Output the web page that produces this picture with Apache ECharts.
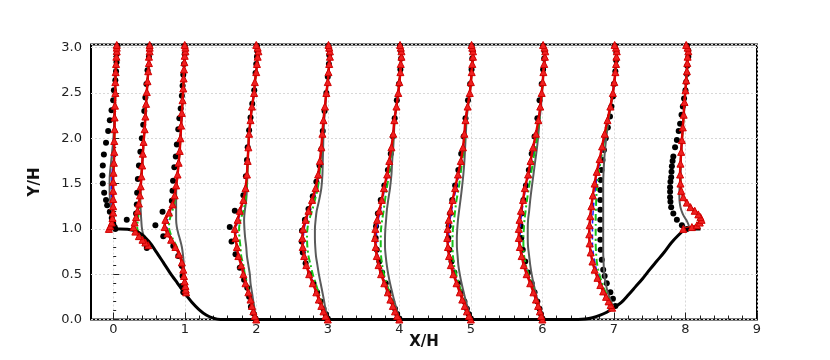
<!DOCTYPE html>
<html>
<head>
<meta charset="utf-8">
<script src="https://cdn.jsdelivr.net/npm/echarts/dist/echarts.min.js"></script>
<style>
  html, body { margin: 0; padding: 0; background: #fff; }
  #chart { width: 830px; height: 360px; }
</style>
</head>
<body>
<div id="chart"></div>
<script>
// hill geometry
const hillX = [0, 0.1, 0.2, 0.3, 0.4, 0.5, 0.6, 0.7, 0.8, 0.9, 1.0, 1.1, 1.2, 1.3, 1.4, 1.5, 1.6,
  6.5, 6.6, 6.7, 6.8, 6.9, 7.0, 7.1, 7.2, 7.3, 7.4, 7.5, 7.6, 7.7, 7.8, 7.9, 7.97, 8.05, 8.21];
const hillY = [1.0, 1.0, 0.995, 0.98, 0.94, 0.86, 0.75, 0.63, 0.51, 0.4, 0.29, 0.19, 0.11, 0.05, 0.015, 0.0, 0.0,
  0.0, 0.005, 0.02, 0.045, 0.08, 0.13, 0.185, 0.27, 0.36, 0.45, 0.55, 0.645, 0.74, 0.845, 0.93, 0.98, 1.0, 1.0];

// x/H = 0
const yS0 = [1.0, 1.03, 1.07, 1.12, 1.18, 1.25, 1.33, 1.42, 1.52, 1.62, 1.73, 1.85, 1.97, 2.1, 2.23, 2.36, 2.5, 2.62, 2.73, 2.82, 2.9, 2.96, 3.0, 3.03];
const red0 = [-0.06, -0.04, -0.02, -0.01, 0.0, 0.0, 0.0, 0.0, 0.0, 0.005, 0.01, 0.015, 0.015, 0.02, 0.02, 0.025, 0.03, 0.03, 0.035, 0.04, 0.045, 0.05, 0.05, 0.05];
const grey0 = [-0.05, -0.03, -0.01, 0.0, -0.01, -0.03, -0.045, -0.05, -0.05, -0.045, -0.03, -0.015, 0.0, 0.01, 0.015, 0.02, 0.025, 0.03, 0.035, 0.04, 0.045, 0.05, 0.05, 0.05];
const green0 = [-0.05, -0.035, -0.015, -0.005, 0.0, -0.005, -0.01, -0.01, -0.01, -0.005, 0.0, 0.01, 0.015, 0.02, 0.02, 0.025, 0.03, 0.03, 0.035, 0.04, 0.045, 0.05, 0.05, 0.05];
const blue0 = [-0.05, -0.035, -0.015, -0.005, -0.005, -0.01, -0.02, -0.025, -0.02, -0.015, -0.005, 0.005, 0.01, 0.02, 0.02, 0.025, 0.03, 0.03, 0.035, 0.04, 0.045, 0.05, 0.05, 0.05];
const dotY0 = [1.0, 1.02, 1.06, 1.12, 1.19, 1.26, 1.32, 1.4, 1.5, 1.59, 1.7, 1.82, 1.95, 2.08, 2.2, 2.31, 2.42, 2.53, 2.64, 2.74, 2.84, 2.93, 3.02];
const dot0 = [0.03, 0.02, 0.0, -0.02, -0.047, -0.084, -0.1, -0.126, -0.145, -0.15, -0.145, -0.13, -0.1, -0.07, -0.047, -0.023, 0.0, 0.01, 0.03, 0.04, 0.047, 0.05, 0.06];

// x/H = 0.5
const yS05 = [0.82, 0.85, 0.88, 0.92, 0.97, 1.02, 1.07, 1.13, 1.2, 1.28, 1.37, 1.47, 1.58, 1.7, 1.83, 1.96, 2.1, 2.24, 2.38, 2.51, 2.63, 2.74, 2.83, 2.9, 2.96, 3.0, 3.03];
const red05 = [-0.01, -0.05, -0.09, -0.14, -0.19, -0.215, -0.2, -0.18, -0.16, -0.14, -0.125, -0.115, -0.105, -0.095, -0.085, -0.075, -0.06, -0.05, -0.04, -0.03, -0.02, -0.01, 0.0, 0.0, 0.01, 0.01, 0.01];
const grey05 = [-0.01, -0.03, -0.05, -0.07, -0.09, -0.1, -0.105, -0.11, -0.115, -0.12, -0.12, -0.115, -0.105, -0.095, -0.085, -0.075, -0.06, -0.05, -0.04, -0.03, -0.02, -0.01, 0.0, 0.0, 0.01, 0.01, 0.01];
const green05 = [-0.01, -0.04, -0.07, -0.11, -0.15, -0.165, -0.16, -0.15, -0.14, -0.13, -0.12, -0.113, -0.105, -0.095, -0.085, -0.075, -0.06, -0.05, -0.04, -0.03, -0.02, -0.01, 0.0, 0.0, 0.01, 0.01, 0.01];
const blue05 = [-0.01, -0.045, -0.08, -0.13, -0.175, -0.2, -0.19, -0.17, -0.155, -0.14, -0.125, -0.115, -0.105, -0.095, -0.085, -0.075, -0.06, -0.05, -0.04, -0.03, -0.02, -0.01, 0.0, 0.0, 0.01, 0.01, 0.01];
const dotY05 = [0.79, 0.84, 0.9, 1.1, 1.17, 1.27, 1.4, 1.55, 1.7, 1.85, 2.0, 2.15, 2.3, 2.45, 2.6, 2.75, 2.9, 3.02];
const dot05 = [-0.03, -0.056, -0.08, -0.31, -0.18, -0.17, -0.165, -0.155, -0.14, -0.12, -0.1, -0.08, -0.065, -0.05, -0.035, -0.02, 0.0, 0.01];

// x/H = 1
const yS1 = [0.3, 0.33, 0.37, 0.42, 0.48, 0.55, 0.63, 0.72, 0.8, 0.88, 0.95, 1.02, 1.1, 1.18, 1.27, 1.37, 1.48, 1.6, 1.73, 1.86, 2.0, 2.14, 2.28, 2.42, 2.55, 2.66, 2.76, 2.84, 2.91, 2.96, 3.0, 3.03];
const red1 = [0.02, 0.015, 0.01, 0.0, -0.01, -0.02, -0.04, -0.08, -0.13, -0.19, -0.24, -0.28, -0.27, -0.22, -0.17, -0.14, -0.12, -0.1, -0.085, -0.07, -0.06, -0.05, -0.04, -0.03, -0.02, -0.015, -0.01, -0.005, 0.0, 0.01, 0.01, 0.0];
const grey1 = [0.02, 0.015, 0.01, 0.0, -0.005, -0.01, -0.015, -0.025, -0.04, -0.065, -0.09, -0.11, -0.12, -0.12, -0.12, -0.12, -0.115, -0.1, -0.085, -0.07, -0.06, -0.05, -0.04, -0.03, -0.02, -0.015, -0.01, -0.005, 0.0, 0.01, 0.01, 0.0];
const green1 = [0.02, 0.015, 0.01, 0.0, -0.01, -0.02, -0.035, -0.07, -0.11, -0.16, -0.2, -0.22, -0.21, -0.18, -0.15, -0.13, -0.115, -0.1, -0.085, -0.07, -0.06, -0.05, -0.04, -0.03, -0.02, -0.015, -0.01, -0.005, 0.0, 0.01, 0.01, 0.0];
const blue1 = [0.02, 0.015, 0.01, 0.0, -0.01, -0.02, -0.04, -0.075, -0.12, -0.175, -0.22, -0.25, -0.24, -0.2, -0.16, -0.135, -0.12, -0.1, -0.085, -0.07, -0.06, -0.05, -0.04, -0.03, -0.02, -0.015, -0.01, -0.005, 0.0, 0.01, 0.01, 0.0];
const dotY1 = [0.3, 0.37, 0.48, 0.59, 0.7, 0.81, 0.92, 1.04, 1.19, 1.31, 1.42, 1.53, 1.68, 1.8, 1.93, 2.1, 2.22, 2.33, 2.47, 2.58, 2.7, 2.82, 2.93, 3.02];
const dot1 = [-0.02, -0.04, -0.03, -0.04, -0.09, -0.16, -0.3, -0.41, -0.31, -0.18, -0.17, -0.163, -0.145, -0.125, -0.11, -0.09, -0.075, -0.056, -0.04, -0.03, -0.02, -0.01, 0.0, 0.0];

// flat-floor stations x/H = 2..6
const yF = [0, 0.04, 0.09, 0.15, 0.22, 0.3, 0.4, 0.5, 0.6, 0.7, 0.8, 0.9, 1.0, 1.1, 1.2, 1.32, 1.45, 1.6, 1.75, 1.9, 2.05, 2.2, 2.35, 2.5, 2.62, 2.73, 2.82, 2.9, 2.96, 3.0, 3.03];
const dotYF = [0.01, 0.06, 0.12, 0.2, 0.3, 0.4, 0.52, 0.64, 0.77, 0.9, 1.03, 1.17, 1.32, 1.48, 1.65, 1.83, 2.02, 2.22, 2.42, 2.6, 2.76, 2.88, 2.96, 3.02];

const red2 = [0.0, -0.02, -0.04, -0.06, -0.08, -0.11, -0.15, -0.18, -0.21, -0.25, -0.27, -0.29, -0.3, -0.26, -0.23, -0.18, -0.15, -0.13, -0.12, -0.11, -0.1, -0.08, -0.06, -0.03, -0.02, 0.0, 0.01, 0.02, 0.03, 0.02, 0.0];
const grey2 = [0.0, -0.01, -0.02, -0.03, -0.045, -0.06, -0.08, -0.09, -0.11, -0.13, -0.14, -0.155, -0.165, -0.17, -0.16, -0.14, -0.13, -0.125, -0.12, -0.11, -0.1, -0.08, -0.06, -0.03, -0.02, 0.0, 0.01, 0.02, 0.03, 0.02, 0.0];
const green2 = [0.0, -0.015, -0.035, -0.05, -0.07, -0.1, -0.13, -0.16, -0.18, -0.21, -0.22, -0.235, -0.24, -0.22, -0.18, -0.15, -0.135, -0.125, -0.12, -0.11, -0.1, -0.08, -0.06, -0.03, -0.02, 0.0, 0.01, 0.02, 0.03, 0.02, 0.0];
const blue2 = [0.0, -0.02, -0.04, -0.06, -0.08, -0.11, -0.145, -0.175, -0.2, -0.24, -0.26, -0.28, -0.285, -0.25, -0.22, -0.175, -0.145, -0.13, -0.12, -0.11, -0.1, -0.08, -0.06, -0.03, -0.02, 0.0, 0.01, 0.02, 0.03, 0.02, 0.0];
const dotY2 = [0.01, 0.07, 0.14, 0.25, 0.35, 0.44, 0.57, 0.72, 0.86, 1.02, 1.2, 1.37, 1.58, 1.76, 1.9, 2.09, 2.23, 2.38, 2.53, 2.72, 2.82, 2.9, 2.96, 3.02];
const dot2 = [-0.01, -0.04, -0.075, -0.1, -0.126, -0.17, -0.23, -0.29, -0.345, -0.37, -0.3, -0.18, -0.145, -0.13, -0.12, -0.1, -0.08, -0.056, -0.028, -0.01, 0.0, 0.01, 0.015, 0.01];

const red3 = [0.0, -0.03, -0.06, -0.09, -0.125, -0.16, -0.21, -0.26, -0.3, -0.33, -0.35, -0.355, -0.345, -0.31, -0.27, -0.22, -0.17, -0.135, -0.11, -0.09, -0.075, -0.06, -0.04, -0.02, 0.0, 0.01, 0.02, 0.03, 0.03, 0.02, 0.01];
const grey3 = [0.0, -0.01, -0.025, -0.04, -0.055, -0.075, -0.1, -0.125, -0.145, -0.165, -0.175, -0.18, -0.18, -0.17, -0.155, -0.12, -0.09, -0.075, -0.07, -0.065, -0.06, -0.05, -0.035, -0.02, 0.0, 0.01, 0.02, 0.03, 0.03, 0.02, 0.01];
const green3 = [0.0, -0.025, -0.05, -0.075, -0.1, -0.13, -0.17, -0.21, -0.24, -0.27, -0.285, -0.29, -0.285, -0.26, -0.22, -0.18, -0.14, -0.115, -0.1, -0.085, -0.075, -0.06, -0.04, -0.02, 0.0, 0.01, 0.02, 0.03, 0.03, 0.02, 0.01];
const blue3 = [0.0, -0.03, -0.055, -0.085, -0.12, -0.155, -0.2, -0.25, -0.29, -0.32, -0.335, -0.34, -0.33, -0.3, -0.26, -0.21, -0.16, -0.13, -0.105, -0.09, -0.075, -0.06, -0.04, -0.02, 0.0, 0.01, 0.02, 0.03, 0.03, 0.02, 0.01];
const dotY3 = [0.01, 0.06, 0.12, 0.2, 0.3, 0.4, 0.5, 0.62, 0.74, 0.86, 0.98, 1.1, 1.22, 1.36, 1.52, 1.7, 1.88, 2.08, 2.3, 2.5, 2.68, 2.82, 2.92, 2.98, 3.02];
const dot3 = [0.0, -0.03, -0.06, -0.1, -0.15, -0.2, -0.25, -0.31, -0.35, -0.365, -0.36, -0.32, -0.27, -0.21, -0.16, -0.115, -0.09, -0.07, -0.045, -0.02, 0.0, 0.015, 0.02, 0.02, 0.01];

const red4 = [0.0, -0.03, -0.06, -0.09, -0.125, -0.16, -0.21, -0.255, -0.29, -0.315, -0.33, -0.34, -0.335, -0.31, -0.28, -0.245, -0.215, -0.17, -0.14, -0.11, -0.085, -0.07, -0.04, -0.015, 0.0, 0.015, 0.02, 0.03, 0.03, 0.02, 0.01];
const grey4 = [0.0, -0.015, -0.03, -0.05, -0.075, -0.1, -0.13, -0.155, -0.175, -0.19, -0.2, -0.2, -0.195, -0.185, -0.175, -0.155, -0.13, -0.11, -0.1, -0.085, -0.075, -0.065, -0.04, -0.015, 0.0, 0.015, 0.02, 0.03, 0.03, 0.02, 0.01];
const green4 = [0.0, -0.025, -0.05, -0.075, -0.105, -0.135, -0.18, -0.215, -0.24, -0.255, -0.26, -0.26, -0.255, -0.24, -0.22, -0.2, -0.175, -0.145, -0.125, -0.1, -0.08, -0.068, -0.04, -0.015, 0.0, 0.015, 0.02, 0.03, 0.03, 0.02, 0.01];
const blue4 = [0.0, -0.03, -0.055, -0.085, -0.12, -0.155, -0.2, -0.245, -0.28, -0.3, -0.315, -0.32, -0.315, -0.295, -0.265, -0.235, -0.205, -0.165, -0.135, -0.105, -0.085, -0.07, -0.04, -0.015, 0.0, 0.015, 0.02, 0.03, 0.03, 0.02, 0.01];
const dot4 = [0.0, -0.03, -0.06, -0.1, -0.15, -0.19, -0.24, -0.28, -0.315, -0.33, -0.325, -0.3, -0.26, -0.21, -0.16, -0.12, -0.09, -0.065, -0.035, -0.005, 0.015, 0.025, 0.025, 0.01];

const red5 = [0.0, -0.025, -0.055, -0.085, -0.12, -0.155, -0.2, -0.245, -0.28, -0.305, -0.32, -0.33, -0.325, -0.31, -0.285, -0.255, -0.22, -0.18, -0.14, -0.11, -0.09, -0.075, -0.045, -0.015, 0.0, 0.012, 0.02, 0.03, 0.03, 0.02, 0.01];
const grey5 = [0.0, -0.015, -0.03, -0.05, -0.075, -0.1, -0.13, -0.155, -0.175, -0.185, -0.195, -0.196, -0.19, -0.18, -0.165, -0.145, -0.125, -0.105, -0.09, -0.08, -0.07, -0.06, -0.04, -0.015, 0.0, 0.012, 0.02, 0.03, 0.03, 0.02, 0.01];
const green5 = [0.0, -0.02, -0.045, -0.075, -0.1, -0.13, -0.17, -0.205, -0.235, -0.25, -0.256, -0.256, -0.25, -0.235, -0.22, -0.2, -0.17, -0.145, -0.12, -0.1, -0.085, -0.072, -0.045, -0.015, 0.0, 0.012, 0.02, 0.03, 0.03, 0.02, 0.01];
const blue5 = [0.0, -0.025, -0.05, -0.08, -0.115, -0.15, -0.19, -0.235, -0.27, -0.29, -0.305, -0.31, -0.305, -0.29, -0.27, -0.24, -0.205, -0.17, -0.135, -0.108, -0.09, -0.075, -0.045, -0.015, 0.0, 0.012, 0.02, 0.03, 0.03, 0.02, 0.01];
const dot5 = [0.0, -0.03, -0.055, -0.09, -0.14, -0.18, -0.23, -0.27, -0.3, -0.315, -0.31, -0.29, -0.26, -0.22, -0.175, -0.135, -0.1, -0.075, -0.04, -0.01, 0.01, 0.02, 0.025, 0.01];

const red6 = [0.0, -0.015, -0.035, -0.06, -0.09, -0.125, -0.17, -0.22, -0.26, -0.29, -0.315, -0.33, -0.33, -0.32, -0.3, -0.27, -0.245, -0.2, -0.165, -0.13, -0.09, -0.056, -0.03, -0.01, 0.005, 0.014, 0.025, 0.035, 0.04, 0.03, 0.01];
const grey6 = [0.0, -0.01, -0.025, -0.045, -0.07, -0.095, -0.125, -0.15, -0.17, -0.185, -0.2, -0.205, -0.205, -0.2, -0.185, -0.17, -0.15, -0.125, -0.1, -0.075, -0.055, -0.04, -0.02, -0.005, 0.005, 0.014, 0.025, 0.035, 0.04, 0.03, 0.01];
const green6 = [0.0, -0.012, -0.03, -0.055, -0.08, -0.11, -0.15, -0.195, -0.23, -0.255, -0.265, -0.266, -0.26, -0.25, -0.235, -0.215, -0.19, -0.16, -0.13, -0.1, -0.07, -0.045, -0.025, -0.008, 0.005, 0.014, 0.025, 0.035, 0.04, 0.03, 0.01];
const blue6 = [0.0, -0.015, -0.033, -0.058, -0.087, -0.12, -0.165, -0.21, -0.25, -0.28, -0.3, -0.31, -0.31, -0.3, -0.285, -0.26, -0.235, -0.19, -0.155, -0.12, -0.085, -0.052, -0.028, -0.01, 0.005, 0.014, 0.025, 0.035, 0.04, 0.03, 0.01];
const dot6 = [0.0, -0.02, -0.04, -0.07, -0.11, -0.15, -0.2, -0.24, -0.275, -0.295, -0.3, -0.29, -0.265, -0.23, -0.19, -0.15, -0.11, -0.07, -0.04, -0.01, 0.01, 0.025, 0.03, 0.01];

// x/H = 7
const yS7 = [0.13, 0.16, 0.2, 0.25, 0.31, 0.38, 0.46, 0.55, 0.64, 0.74, 0.84, 0.94, 1.04, 1.14, 1.25, 1.37, 1.5, 1.63, 1.77, 1.91, 2.05, 2.2, 2.35, 2.5, 2.62, 2.73, 2.82, 2.9, 2.96, 3.0, 3.03];
const red7 = [-0.025, -0.045, -0.075, -0.11, -0.15, -0.19, -0.23, -0.27, -0.3, -0.325, -0.34, -0.345, -0.34, -0.33, -0.315, -0.295, -0.27, -0.24, -0.2, -0.165, -0.13, -0.09, -0.05, -0.015, 0.005, 0.02, 0.03, 0.035, 0.04, 0.03, 0.01];
const grey7 = [0.0, -0.02, -0.04, -0.065, -0.09, -0.11, -0.13, -0.14, -0.145, -0.15, -0.15, -0.15, -0.15, -0.15, -0.15, -0.15, -0.15, -0.145, -0.135, -0.12, -0.1, -0.075, -0.045, -0.015, 0.005, 0.02, 0.03, 0.035, 0.04, 0.03, 0.01];
const green7 = [-0.01, -0.03, -0.055, -0.085, -0.12, -0.155, -0.19, -0.22, -0.24, -0.25, -0.255, -0.255, -0.255, -0.255, -0.25, -0.245, -0.23, -0.21, -0.18, -0.15, -0.12, -0.085, -0.05, -0.015, 0.005, 0.02, 0.03, 0.035, 0.04, 0.03, 0.01];
const blue7 = [-0.02, -0.04, -0.07, -0.1, -0.14, -0.175, -0.21, -0.245, -0.27, -0.29, -0.3, -0.3, -0.3, -0.295, -0.285, -0.27, -0.25, -0.225, -0.19, -0.155, -0.125, -0.088, -0.05, -0.015, 0.005, 0.02, 0.03, 0.035, 0.04, 0.03, 0.01];
const dotY7 = [0.15, 0.23, 0.3, 0.4, 0.48, 0.55, 0.66, 0.77, 0.88, 0.99, 1.1, 1.21, 1.32, 1.43, 1.54, 1.65, 1.76, 1.87, 2.0, 2.12, 2.24, 2.35, 2.46, 2.6, 2.74, 2.86, 2.95, 3.02];
const dot7 = [0.02, -0.014, -0.05, -0.1, -0.13, -0.15, -0.17, -0.185, -0.19, -0.19, -0.19, -0.19, -0.19, -0.19, -0.185, -0.175, -0.16, -0.14, -0.115, -0.085, -0.055, -0.035, -0.014, 0.0, 0.02, 0.03, 0.035, 0.01];

// x/H = 8
const yS8 = [1.0, 1.02, 1.04, 1.07, 1.1, 1.13, 1.16, 1.2, 1.24, 1.29, 1.35, 1.42, 1.5, 1.6, 1.72, 1.85, 1.98, 2.12, 2.26, 2.4, 2.53, 2.64, 2.74, 2.83, 2.9, 2.96, 3.0, 3.03];
const red8 = [-0.03, 0.09, 0.16, 0.2, 0.225, 0.21, 0.18, 0.13, 0.07, 0.02, -0.03, -0.06, -0.07, -0.075, -0.07, -0.06, -0.05, -0.037, -0.025, -0.014, 0.0, 0.01, 0.02, 0.025, 0.03, 0.04, 0.03, 0.01];
const grey8 = [0.04, 0.05, 0.045, 0.03, 0.01, -0.015, -0.035, -0.055, -0.07, -0.08, -0.085, -0.085, -0.08, -0.07, -0.065, -0.06, -0.05, -0.037, -0.025, -0.014, 0.0, 0.01, 0.02, 0.025, 0.03, 0.04, 0.03, 0.01];
const green8 = [-0.02, 0.08, 0.14, 0.18, 0.2, 0.19, 0.165, 0.12, 0.065, 0.02, -0.025, -0.055, -0.065, -0.07, -0.068, -0.06, -0.05, -0.037, -0.025, -0.014, 0.0, 0.01, 0.02, 0.025, 0.03, 0.04, 0.03, 0.01];
const blue8 = [-0.02, 0.085, 0.15, 0.19, 0.21, 0.2, 0.17, 0.125, 0.068, 0.02, -0.028, -0.058, -0.068, -0.072, -0.069, -0.06, -0.05, -0.037, -0.025, -0.014, 0.0, 0.01, 0.02, 0.025, 0.03, 0.04, 0.03, 0.01];
const dotY8 = [1.0, 1.04, 1.1, 1.17, 1.24, 1.3, 1.35, 1.41, 1.46, 1.52, 1.57, 1.63, 1.69, 1.75, 1.8, 1.9, 1.98, 2.08, 2.16, 2.26, 2.35, 2.44, 2.53, 2.62, 2.71, 2.8, 2.9, 2.97, 3.02];
const dot8 = [0.02, -0.05, -0.12, -0.17, -0.2, -0.21, -0.215, -0.215, -0.215, -0.21, -0.2, -0.195, -0.19, -0.18, -0.17, -0.145, -0.12, -0.095, -0.075, -0.055, -0.037, -0.02, 0.0, 0.01, 0.02, 0.025, 0.04, 0.04, 0.02];

const stations = [
  { x: 0, y: yS0, red: red0, grey: grey0, green: green0, blue: blue0, dy: dotY0, dot: dot0 },
  { x: 0.5, y: yS05, red: red05, grey: grey05, green: green05, blue: blue05, dy: dotY05, dot: dot05 },
  { x: 1, y: yS1, red: red1, grey: grey1, green: green1, blue: blue1, dy: dotY1, dot: dot1 },
  { x: 2, y: yF, red: red2, grey: grey2, green: green2, blue: blue2, dy: dotY2, dot: dot2 },
  { x: 3, y: yF, red: red3, grey: grey3, green: green3, blue: blue3, dy: dotY3, dot: dot3 },
  { x: 4, y: yF, red: red4, grey: grey4, green: green4, blue: blue4, dy: dotYF, dot: dot4 },
  { x: 5, y: yF, red: red5, grey: grey5, green: green5, blue: blue5, dy: dotYF, dot: dot5 },
  { x: 6, y: yF, red: red6, grey: grey6, green: green6, blue: blue6, dy: dotYF, dot: dot6 },
  { x: 7, y: yS7, red: red7, grey: grey7, green: green7, blue: blue7, dy: dotY7, dot: dot7 },
  { x: 8, y: yS8, red: red8, grey: grey8, green: green8, blue: blue8, dy: dotY8, dot: dot8 }
];

const Y_MAX = 3.035;
const FONT = 'DejaVu Sans';

function profile(x0, ys, dx) {
  return ys.map((y, i) => [x0 + dx[i], y]);
}

function lineSeries(data, color, width, type) {
  return {
    type: 'line', xAxisIndex: 0, yAxisIndex: 0, data: data,
    showSymbol: false, smooth: 0.3, silent: true,
    lineStyle: { color: color, width: width, type: type }
  };
}

const series = [];
stations.forEach(function (s) {
  series.push(lineSeries(profile(s.x, s.y, s.grey), '#5a5a5a', 2, 'solid'));
});
stations.forEach(function (s) {
  series.push(lineSeries(profile(s.x, s.y, s.green), '#17c117', 2, [7, 3, 2, 3]));
});
stations.forEach(function (s) {
  series.push(lineSeries(profile(s.x, s.y, s.blue), '#1a1aff', 1.5, [5, 3]));
});
stations.forEach(function (s) {
  series.push({
    type: 'line', xAxisIndex: 0, yAxisIndex: 0, data: profile(s.x, s.y, s.red),
    smooth: 0.3, silent: true, symbol: 'triangle', symbolSize: 7, showAllSymbol: true,
    lineStyle: { color: '#e00000', width: 2.5 },
    itemStyle: { color: '#f02020', borderColor: '#d00000', borderWidth: 1 }
  });
});
stations.forEach(function (s) {
  series.push({
    type: 'scatter', xAxisIndex: 0, yAxisIndex: 0, data: profile(s.x, s.dy, s.dot),
    symbol: 'circle', symbolSize: 6, silent: true,
    itemStyle: { color: '#000', opacity: 1 }
  });
});
series.push({
  type: 'line', xAxisIndex: 0, yAxisIndex: 0,
  data: hillX.map((x, i) => [x, hillY[i]]),
  showSymbol: false, smooth: 0.3, silent: true,
  lineStyle: { color: '#000', width: 3 }
});

const chart = echarts.init(document.getElementById('chart'));
chart.setOption({
  animation: false,
  backgroundColor: '#fff',
  grid: [
    { left: 91, right: 73, top: 44.5, bottom: 40.5, show: true, borderColor: '#000', borderWidth: 2, backgroundColor: 'transparent' },
    { left: 113.3, right: 73, top: 44.5, bottom: 40.5, show: false }
  ],
  xAxis: [
    {
      gridIndex: 0, type: 'value', min: -0.31, max: 9,
      axisLine: { show: false }, axisTick: { show: false }, axisLabel: { show: false }, splitLine: { show: false },
      name: 'X/H', nameLocation: 'middle', nameGap: 15,
      nameTextStyle: { fontFamily: FONT, fontWeight: 'bold', fontSize: 15, color: '#111' }
    },
    {
      gridIndex: 1, type: 'value', min: 0, max: 9, interval: 1,
      axisLine: { show: false },
      axisTick: { show: true, inside: true, length: 7, lineStyle: { color: '#222', width: 1 } },
      minorTick: { show: true, splitNumber: 5, length: 4, lineStyle: { color: '#222', width: 1 } },
      axisLabel: { fontFamily: FONT, fontSize: 13, color: '#222', margin: 4 },
      splitLine: { show: true, lineStyle: { color: '#d8d8d8', type: [2, 2], width: 1 } }
    }
  ],
  yAxis: [
    {
      gridIndex: 0, type: 'value', min: 0, max: Y_MAX, interval: 0.5,
      axisLine: { show: false },
      axisTick: { show: true, inside: true, length: 6, lineStyle: { color: '#222', width: 1 } },
      minorTick: { show: true, splitNumber: 5, length: 3, lineStyle: { color: '#222', width: 1 } },
      axisLabel: {
        fontFamily: FONT, fontSize: 13, color: '#222', margin: 9,
        formatter: function (v) {
          return Math.abs(v * 2 - Math.round(v * 2)) < 1e-6 ? v.toFixed(1) : '';
        }
      },
      splitLine: { show: true, lineStyle: { color: '#d8d8d8', type: [2, 2], width: 1 } },
      name: 'Y/H', nameLocation: 'middle', nameGap: 48, nameRotate: 90,
      nameTextStyle: { fontFamily: FONT, fontWeight: 'bold', fontSize: 15, color: '#111' }
    },
    {
      gridIndex: 1, type: 'value', min: 0, max: Y_MAX, show: false
    }
  ],
  series: series
});
</script>
</body>
</html>
